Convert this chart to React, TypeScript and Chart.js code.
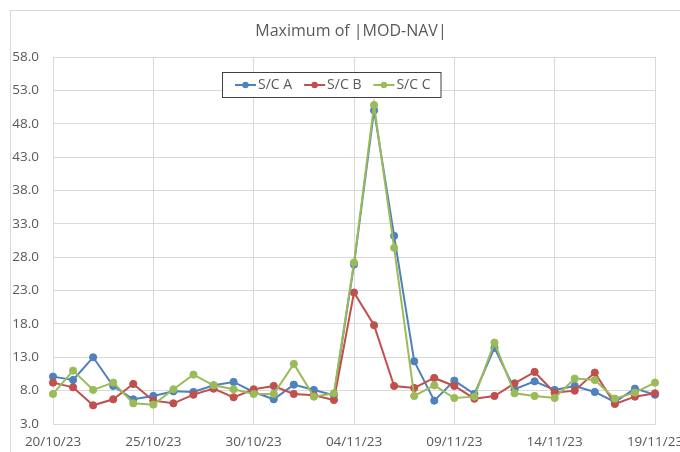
import React, { useEffect, useRef } from "react";
import { Chart, registerables } from "chart.js";

Chart.register(...registerables);

const chartTitle = "Maximum of |MOD-NAV|";

const dates = [
  "20/10/23", "21/10/23", "22/10/23", "23/10/23", "24/10/23", "25/10/23",
  "26/10/23", "27/10/23", "28/10/23", "29/10/23", "30/10/23", "31/10/23",
  "01/11/23", "02/11/23", "03/11/23", "04/11/23", "05/11/23", "06/11/23",
  "07/11/23", "08/11/23", "09/11/23", "10/11/23", "11/11/23", "12/11/23",
  "13/11/23", "14/11/23", "15/11/23", "16/11/23", "17/11/23", "18/11/23",
  "19/11/23",
];

const seriesNames = ["S/C A", "S/C B", "S/C C"];

const scA = [
  10.1, 9.6, 13.0, 8.7, 6.7, 7.2, 7.9, 7.8, 8.8, 9.3, 7.8, 6.7, 8.9, 8.1, 7.3,
  26.9, 50.0, 31.2, 12.4, 6.5, 9.5, 7.5, 14.4, 8.2, 9.4, 8.1, 8.7, 7.8, 6.3, 8.3, 7.4,
];
const scB = [
  9.2, 8.5, 5.8, 6.7, 9.0, 6.5, 6.1, 7.4, 8.3, 7.0, 8.2, 8.7, 7.5, 7.3, 6.6,
  22.7, 17.8, 8.7, 8.4, 9.9, 8.7, 6.8, 7.2, 9.1, 10.8, 7.7, 8.0, 10.7, 6.0, 7.1, 7.6,
];
const scC = [
  7.5, 11.0, 8.1, 9.2, 6.1, 5.9, 8.2, 10.4, 8.8, 8.2, 7.5, 7.5, 12.0, 7.1, 7.6,
  27.2, 50.8, 29.4, 7.2, 8.8, 6.9, 7.1, 15.2, 7.6, 7.2, 6.9, 9.8, 9.6, 6.8, 7.7, 9.2,
];

const yMin = 3;
const yMax = 58;
const yStep = 5;
const labelEvery = 5;

const colors = ["#4F81BD", "#C0504D", "#9BBB59"];
const textColor = "#595959";
const gridColor = "#d9d9d9";
const fontFamily = "'Open Sans', 'Noto Sans', sans-serif";

const decorPlugin = {
  id: "decor",
  beforeDraw(chart: any) {
    const ctx = chart.ctx;
    ctx.save();
    ctx.fillStyle = "#ffffff";
    ctx.fillRect(0, 0, chart.width, chart.height);
    ctx.strokeStyle = gridColor;
    ctx.lineWidth = 1;
    ctx.strokeRect(10.5, 10.5, chart.width + 20, chart.height + 20);
    ctx.restore();
  },
  afterDraw(chart: any) {
    const ctx = chart.ctx;
    ctx.save();
    // title
    ctx.fillStyle = textColor;
    ctx.font = `16px ${fontFamily}`;
    ctx.textAlign = "center";
    ctx.textBaseline = "middle";
    ctx.fillText(chartTitle, 351, 31);

    // legend
    ctx.font = `14px ${fontFamily}`;
    const lineLen = 21;
    const gapText = 2;
    const gapItem = 12;
    const widths = seriesNames.map((n) => ctx.measureText(n).width);
    const left = 222;
    const top = 72;
    const h = 25;
    let total = 13;
    widths.forEach((w, i) => {
      total += lineLen + gapText + w + (i < widths.length - 1 ? gapItem : 10);
    });
    ctx.fillStyle = "#ffffff";
    ctx.fillRect(left, top, total, h);
    ctx.strokeStyle = "#404040";
    ctx.lineWidth = 1;
    ctx.strokeRect(left + 0.5, top + 0.5, total, h);
    let x = left + 13;
    const cy = top + h / 2 + 0.5;
    seriesNames.forEach((n, i) => {
      ctx.strokeStyle = colors[i];
      ctx.lineWidth = 2;
      ctx.beginPath();
      ctx.moveTo(x, cy);
      ctx.lineTo(x + lineLen, cy);
      ctx.stroke();
      ctx.fillStyle = colors[i];
      ctx.beginPath();
      ctx.arc(x + lineLen / 2, cy, 3.2, 0, Math.PI * 2);
      ctx.fill();
      ctx.fillStyle = textColor;
      ctx.textAlign = "left";
      ctx.textBaseline = "middle";
      ctx.fillText(n, x + lineLen + gapText, cy);
      x += lineLen + gapText + widths[i] + gapItem;
    });
    ctx.restore();
  },
};

export default function App() {
  const ref = useRef<HTMLCanvasElement | null>(null);

  useEffect(() => {
    document.body.style.margin = "0";
    if (!ref.current) return;
    const series = [scA, scB, scC];
    const chart = new Chart(ref.current, {
      type: "line",
      data: {
        labels: dates,
        datasets: series.map((d, i) => ({
          label: seriesNames[i],
          data: d,
          borderColor: colors[i],
          backgroundColor: colors[i],
          borderWidth: 2,
          pointRadius: 3.6,
          pointBorderWidth: 1,
          pointBackgroundColor: colors[i],
          pointBorderColor: colors[i],
          tension: 0,
          order: 2 - i,
        })),
      },
      options: {
        animation: false,
        responsive: false,
        maintainAspectRatio: false,
        layout: { padding: { top: 57, right: 25, left: 0, bottom: 0 } },
        plugins: {
          legend: { display: false },
          title: { display: false },
          tooltip: { enabled: false },
        },
        scales: {
          x: {
            type: "category",
            offset: false,
            grid: {
              drawTicks: false,
              color: (c: any) => (c.index % labelEvery === 0 ? gridColor : "rgba(0,0,0,0)"),
              lineWidth: 1,
            },
            border: { display: true, color: gridColor },
            ticks: {
              autoSkip: false,
              maxRotation: 0,
              minRotation: 0,
              padding: 10,
              color: textColor,
              font: { family: fontFamily, size: 13.5 },
              callback: (_v: any, i: number) => (i % labelEvery === 0 ? dates[i] : ""),
            },
            afterFit: (s: any) => {
              s.height = 28;
              s.paddingLeft = 0;
              s.paddingRight = 0;
            },
          },
          y: {
            min: yMin,
            max: yMax,
            grid: { drawTicks: false, color: gridColor, lineWidth: 1 },
            border: { display: true, color: gridColor },
            ticks: {
              stepSize: yStep,
              padding: 14,
              color: textColor,
              font: { family: fontFamily, size: 13.5 },
              callback: (v: any) => Number(v).toFixed(1),
            },
            afterFit: (s: any) => {
              s.width = 53;
              s.paddingTop = 0;
              s.paddingBottom = 0;
            },
          },
        },
      },
      plugins: [decorPlugin],
    });
    return () => chart.destroy();
  }, []);

  return (
    <div style={{ width: 680, height: 452 }}>
      <canvas ref={ref} width={680} height={452} style={{ display: "block" }} />
    </div>
  );
}
